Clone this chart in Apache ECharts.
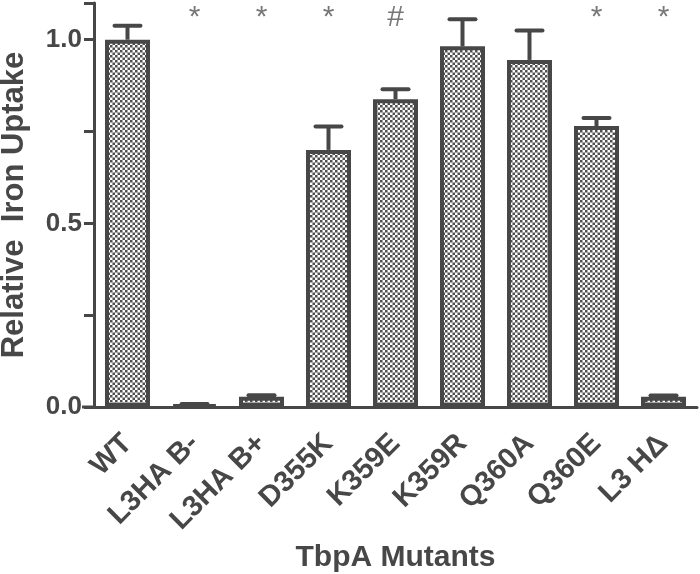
<!DOCTYPE html>
<html>
<head>
<meta charset="utf-8">
<script src="https://cdn.jsdelivr.net/npm/echarts@6/dist/echarts.min.js"></script>
<style>html,body{margin:0;padding:0;background:#fff}#c{width:700px;height:574px}</style>
</head>
<body>
<div id="c"></div>
<script>
var categories = ['WT', 'L3HA B-', 'L3HA B+', 'D355K', 'K359E', 'K359R', 'Q360A', 'Q360E', 'L3 H\u0394'];
var values = [1.0, 0.006, 0.028, 0.70, 0.838, 0.982, 0.945, 0.765, 0.028];
var errors = [0.038, 0.002, 0.004, 0.064, 0.027, 0.074, 0.08, 0.022, 0.003];
var markers = ['', '*', '*', '*', '#', '', '', '*', '*'];
var yTicks = ['0.0', '0.5', '1.0'];

var INK = '#474747';
var FONT = 'Liberation Sans, Arial, sans-serif';

var pc = document.createElement('canvas');
pc.width = 10; pc.height = 10;
var g = pc.getContext('2d');
g.fillStyle = '#ffffff'; g.fillRect(0, 0, 10, 10);
g.fillStyle = '#505050';
g.fillRect(0, 0, 5, 5); g.fillRect(5, 5, 5, 5);

var chart = echarts.init(document.getElementById('c'), null, {renderer: 'canvas'});
chart.setOption({
  animation: false,
  grid: {left: 94, right: 3, top: 3, bottom: 167, containLabel: false, outerBoundsMode: 'none'},
  xAxis: {
    type: 'category',
    data: categories,
    name: 'TbpA Mutants',
    nameLocation: 'middle',
    nameGap: 134,
    nameTextStyle: {fontFamily: FONT, fontWeight: 'bold', fontSize: 30, color: INK},
    axisLine: {lineStyle: {color: INK, width: 3}},
    axisTick: {alignWithLabel: true, length: 12, lineStyle: {color: INK, width: 3}},
    axisLabel: {rotate: 45, margin: 32, interval: 0, fontFamily: FONT, fontWeight: 'bold', fontSize: 29, color: INK}
  },
  yAxis: {
    type: 'value',
    min: 0, max: 1.1, interval: 0.5,
    name: 'Relative  Iron Uptake',
    nameLocation: 'middle',
    nameGap: 64,
    nameTextStyle: {fontFamily: FONT, fontWeight: 'bold', fontSize: 31, color: INK},
    axisLine: {show: true, lineStyle: {color: INK, width: 3}},
    axisTick: {show: true, length: 10, lineStyle: {color: INK, width: 3}},
    minorTick: {show: true, splitNumber: 2, length: 10, lineStyle: {color: INK, width: 3}},
    splitLine: {show: false},
    axisLabel: {
      margin: 12, fontFamily: FONT, fontWeight: 'bold', fontSize: 26, color: INK,
      formatter: function (v) { var i = Math.round(v / 0.5); return (Math.abs(v - i * 0.5) < 1e-6 && yTicks[i]) ? yTicks[i] : ''; }
    }
  },
  series: [
    {
      type: 'bar',
      data: values,
      barWidth: 45,
      itemStyle: {color: {image: pc, repeat: 'repeat', scaleX: 0.5, scaleY: 0.5}, borderColor: INK, borderWidth: 4},
      z: 2
    },
    {
      type: 'custom',
      data: values.map(function (v, i) { return [i, v, errors[i]]; }),
      renderItem: function (params, api) {
        var i = api.value(0), v = api.value(1), e = api.value(2);
        var p0 = api.coord([i, v]);
        var p1 = api.coord([i, v + e]);
        var half = 13;
        return {
          type: 'group',
          children: [
            {type: 'line', shape: {x1: p0[0], y1: p0[1], x2: p1[0], y2: p1[1]}, style: {stroke: INK, lineWidth: 4}},
            {type: 'line', shape: {x1: p1[0] - half, y1: p1[1], x2: p1[0] + half, y2: p1[1]}, style: {stroke: INK, lineWidth: 4, lineCap: 'round'}}
          ]
        };
      },
      z: 1
    },
    {
      type: 'scatter',
      symbolSize: 0,
      data: markers.map(function (m, i) { return [i, 1.06, m]; }),
      label: {
        show: true, position: 'inside',
        formatter: function (p) { return p.value[2]; },
        fontFamily: FONT, fontSize: 30, color: '#555'
      },
      z: 3
    }
  ]
});
var y0 = chart.convertToPixel({yAxisIndex: 0}, 0);
chart.setOption({
  graphic: [{type: 'line', shape: {x1: 82, y1: y0, x2: 95, y2: y0}, style: {stroke: INK, lineWidth: 3}}]
});
</script>
</body>
</html>
